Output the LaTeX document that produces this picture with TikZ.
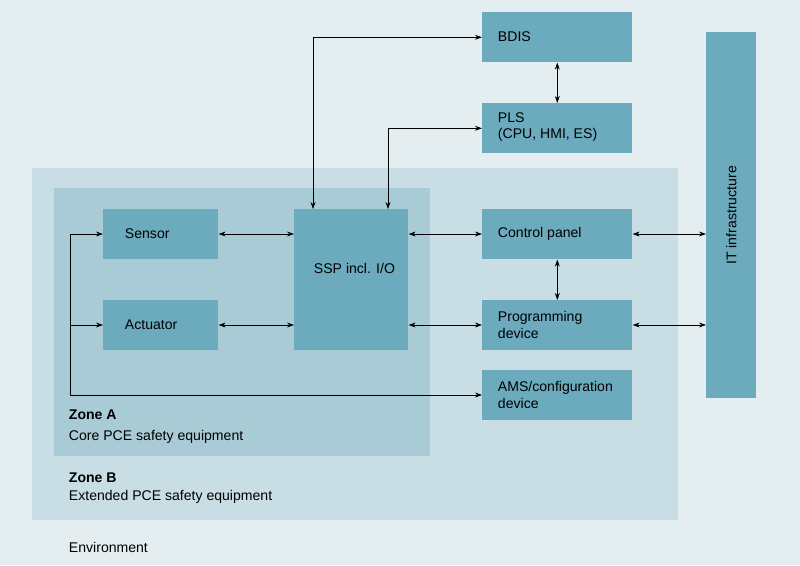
\documentclass[tikz,border=0pt]{standalone}
\usepackage{fontspec}
\setmainfont{Liberation Sans}
\usetikzlibrary{arrows.meta}
\definecolor{envbg}{HTML}{E4EEF1}
\definecolor{zoneb}{HTML}{C9DEE4}
\definecolor{zonea}{HTML}{A9CBD5}
\definecolor{boxfill}{HTML}{6CAABD}
\tikzset{
  box/.style={draw=none, fill=boxfill, anchor=north west, inner sep=0pt},
  lbl/.style={align=left, anchor=west, font=\fontsize{10}{12}\selectfont},
  link/.style={{Stealth[length=5pt,width=3.5pt]}-{Stealth[length=5pt,width=3.5pt]}, line width=0.5pt}
}
\begin{document}
\begin{tikzpicture}[x=0.025cm,y=-0.025cm]
\fill[envbg] (0,0) rectangle (800,565);
\fill[zoneb] (32,168) rectangle (678,520);
\fill[zonea] (54,188) rectangle (430,456);

% boxes
\node[box, minimum width=3.75cm, minimum height=1.25cm] (bdis) at (482,12) {};
\node[box, minimum width=3.75cm, minimum height=1.25cm] (pls) at (482,103) {};
\node[box, minimum width=1.25cm, minimum height=9.15cm] (it) at (706,32) {};
\node[box, minimum width=2.875cm, minimum height=1.25cm] (sensor) at (103,209) {};
\node[box, minimum width=2.875cm, minimum height=1.25cm] (actuator) at (103,300) {};
\node[box, minimum width=2.85cm, minimum height=3.525cm] (ssp) at (294,209) {};
\node[box, minimum width=3.75cm, minimum height=1.25cm] (panel) at (482,209) {};
\node[box, minimum width=3.75cm, minimum height=1.25cm] (prog) at (482,300) {};
\node[box, minimum width=3.75cm, minimum height=1.25cm] (ams) at (482,370) {};

% labels
\node[lbl] at (493,37) {BDIS};
\node[lbl] at (493,127) {PLS\\(CPU, HMI, ES)};
\node[rotate=90, font=\fontsize{10}{12}\selectfont] at (it.center) {IT infrastructure};
\node[lbl] at (120,234) {Sensor};
\node[lbl] at (120,325) {Actuator};
\node[lbl] at (309,268) {SSP incl. I/O};
\node[lbl] at (493,234) {Control panel};
\node[lbl] at (493,325) {Programming\\device};
\node[lbl] at (493,395) {AMS/configuration\\device};
\node[lbl] at (64,415) {\textbf{Zone A}};
\node[lbl] at (64,437) {Core PCE safety equipment};
\node[lbl] at (64,478) {\textbf{Zone B}};
\node[lbl] at (64,497) {Extended PCE safety equipment};
\node[lbl] at (64,547) {Environment};

% connectors
\coordinate (lft) at (70,234);
\draw[link] (ssp.north west -| 313,0) |- (bdis.west);
\draw[link] (ssp.north west -| 388,0) |- (pls.west);
\draw[link] (bdis.south) -- (pls.north);
\draw[link] (sensor.east |- 0,234) -- (ssp.west |- 0,234);
\draw[link] (actuator.east |- 0,325) -- (ssp.west |- 0,325);
\draw[link] (ssp.east |- 0,234) -- (panel.west |- 0,234);
\draw[link] (ssp.east |- 0,325) -- (prog.west |- 0,325);
\draw[link] (panel.south) -- (prog.north);
\draw[link] (panel.east |- 0,234) -- (it.west |- 0,234);
\draw[link] (prog.east |- 0,325) -- (it.west |- 0,325);
\draw[line width=0.5pt, -{Stealth[length=5pt,width=3.5pt]}] (lft) -- (sensor.west |- 0,234);
\draw[line width=0.5pt, -{Stealth[length=5pt,width=3.5pt]}] (lft) |- (ams.west |- 0,395);
\draw[line width=0.5pt, -{Stealth[length=5pt,width=3.5pt]}] (70,325) -- (actuator.west |- 0,325);
\end{tikzpicture}
\end{document}
